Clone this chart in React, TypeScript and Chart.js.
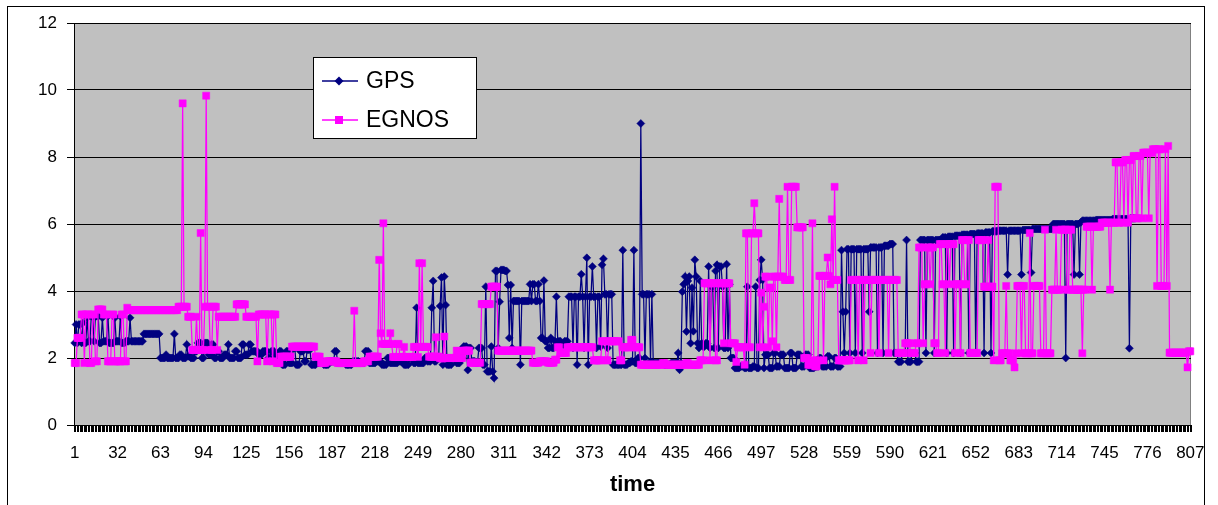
import React, { useEffect, useRef } from 'react';
import { Chart, registerables } from 'chart.js';

Chart.register(...registerables);

const FONT = 'Arial, "Liberation Sans", Helvetica, sans-serif';

// Category axis: observation number 1..807
const categories: string[] = Array.from({ length: 807 }, (_, k) => String(k + 1));
// Labelled categories on the x axis
const xTickLabels = ['1', '32', '63', '94', '125', '156', '187', '218', '249', '280', '311', '342', '373', '404', '435', '466', '497', '528', '559', '590', '621', '652', '683', '714', '745', '776', '807'];
const yMin = 0;
const yMax = 12;
const yStep = 2;

// Series values, stored as steps: [last category of the step, value]
const gpsStepsA: [number, number][] = [
  [1, 2.45], [2, 3.0], [3, 2.45], [5, 3.0], [6, 2.45], [7, 3.05], [9, 2.45], [10, 3.2],
  [12, 2.5], [14, 3.25], [15, 2.5], [18, 3.25], [20, 2.45], [21, 3.2], [24, 2.5], [25, 3.25], [29, 2.45], [30, 3.2], [33, 2.5], [34, 3.25], [37, 2.45], [40, 2.5],
  [41, 3.2], [50, 2.5], [62, 2.72],
  [66, 2.0], [67, 2.1], [72, 2.0], [73, 2.72],
  [76, 2.0], [78, 2.1], [81, 2.0], [82, 2.4], [84, 2.05],
  [87, 2.0], [89, 2.2], [92, 2.45], [94, 2.0], [97, 2.45], [99, 2.1], [101, 2.4], [103, 2.0], [105, 2.2],
  [108, 2.0], [111, 2.1], [112, 2.4], [116, 2.0], [118, 2.2], [121, 2.0], [123, 2.4], [126, 2.1], [128, 2.4], [130, 2.2],
  [133, 2.2], [136, 2.1], [140, 2.2], [142, 2.0], [145, 2.2], [148, 2.1], [150, 2.2],
];
const gpsStepsB: [number, number][] = [
  [153, 1.8], [155, 2.2], [158, 1.85], [160, 2.3], [163, 1.8], [166, 2.2], [168, 1.9], [171, 2.25], [175, 1.8],
  [180, 1.85], [184, 1.8], [188, 1.9], [190, 2.2], [196, 1.85], [201, 1.8], [206, 1.9], [210, 1.85],
  [213, 2.2], [218, 1.85], [222, 1.9], [226, 1.8], [228, 2.0], [234, 1.85], [238, 1.9], [242, 1.8], [245, 2.0],
  [247, 1.85], [248, 3.5], [249, 1.85],
  [253, 1.85], [255, 2.0], [258, 1.9], [259, 3.5], [260, 4.3], [262, 1.9],
  [264, 2.0], [265, 3.55], [266, 4.4], [267, 1.8], [268, 4.43], [269, 3.58], [270, 1.8],
  [273, 1.8], [276, 2.0], [279, 1.85], [281, 2.0], [284, 2.34], [285, 1.64], [287, 2.3], [290, 1.9],
  [292, 1.85], [295, 2.3], [297, 1.8], [298, 4.13],
  [301, 1.6], [302, 2.34], [303, 1.6], [304, 1.4],
  [306, 4.6], [307, 2.3], [308, 3.68], [311, 4.63], [313, 4.6], [314, 4.18], [315, 2.6],
  [316, 4.18], [317, 2.3], [318, 3.7],
  [322, 3.7], [323, 1.8], [329, 3.7], [330, 4.2], [331, 3.7], [333, 4.2], [335, 3.7], [336, 4.2], [337, 3.7],
];
const gpsStepsC: [number, number][] = [
  [339, 2.6], [340, 4.31], [342, 2.5], [344, 2.3], [345, 2.6], [347, 2.3], [348, 2.5], [349, 3.83],
  [352, 2.5], [354, 2.4], [357, 2.5],
  [360, 3.83], [361, 2.3], [363, 3.83], [364, 1.8], [366, 3.83], [367, 4.5], [368, 3.83], [369, 2.3], [370, 3.83], [371, 4.99], [372, 1.8], [374, 3.83], [375, 4.73], [377, 3.83], [378, 2.3], [380, 3.83],
  [381, 2.34], [382, 4.78], [383, 4.96], [385, 3.9], [386, 2.3], [389, 3.9], [390, 1.8],
  [396, 1.8], [397, 5.22], [400, 1.8], [402, 1.85], [404, 1.9], [405, 5.22], [407, 1.85], [409, 2.0], [410, 9.0],
  [412, 3.9], [413, 2.0], [416, 3.9], [417, 1.9], [418, 3.9],
  [426, 1.85], [431, 1.8], [436, 1.85], [437, 2.15], [438, 1.65], [439, 1.85],
  [440, 3.98], [441, 4.2], [442, 4.43], [443, 2.79], [444, 4.3], [445, 4.43], [446, 2.44], [447, 4.1], [448, 2.8], [449, 4.93], [450, 4.43], [451, 2.44], [452, 2.3], [453, 4.3], [454, 2.44],
  [456, 2.34], [458, 2.44],
  [459, 4.73], [460, 2.3], [462, 4.13], [463, 2.3], [464, 4.6], [465, 4.78], [466, 2.3], [468, 4.73], [469, 4.13], [471, 2.3], [472, 4.8], [473, 2.3], [474, 4.2], [475, 2.0],
  [477, 2.0], [481, 1.7], [484, 1.75], [486, 1.7], [487, 4.13], [490, 1.7], [492, 1.75], [493, 4.13], [495, 1.7],
  [496, 4.33], [497, 4.93], [498, 4.33], [499, 1.7],
  [502, 2.1], [505, 1.7], [507, 2.15], [510, 1.75], [513, 2.1], [517, 1.7], [519, 2.15], [522, 1.7], [525, 2.1], [528, 1.75], [531, 2.1], [535, 1.7],
  [538, 1.75], [540, 2.0], [544, 1.75], [546, 2.05], [549, 1.75], [551, 2.0], [554, 1.75],
];
const gpsStepsD: [number, number][] = [
  [555, 5.22], [556, 3.38], [557, 2.15], [558, 3.38],
  [560, 5.25], [561, 2.15], [564, 5.25], [565, 2.15], [569, 5.25], [570, 2.15], [574, 5.25], [575, 3.38], [580, 5.3], [581, 2.15], [584, 5.3], [585, 2.15], [589, 5.35], [592, 5.4],
  [595, 2.15], [598, 1.89], [601, 2.15], [602, 5.52], [605, 1.89], [608, 2.15], [611, 1.89],
  [615, 5.52], [616, 2.15], [621, 5.52], [622, 2.15], [627, 5.52],
  [630, 5.6], [631, 2.15], [635, 5.62], [636, 2.15], [640, 5.65], [641, 2.15], [646, 5.68], [647, 2.15], [651, 5.7], [652, 2.15], [657, 5.72], [658, 2.15], [662, 5.75], [663, 2.15], [667, 5.78],
  [674, 5.8], [675, 4.49], [684, 5.8], [685, 4.49], [691, 5.82], [692, 4.55], [707, 5.85],
  [716, 6.0], [717, 2.0], [722, 6.0], [723, 4.49], [726, 6.0], [727, 4.49], [728, 6.05],
  [738, 6.1], [750, 6.12], [762, 6.15], [763, 2.29], [767, 6.17],
];

const egnosStepsA: [number, number][] = [
  [2, 1.85], [5, 2.6], [7, 3.3], [8, 1.85], [11, 3.3], [13, 1.85], [15, 3.3], [17, 1.9], [21, 3.45], [24, 3.3], [27, 1.9], [29, 3.3], [34, 1.9], [36, 3.3], [38, 1.9], [39, 3.5],
  [75, 3.43], [78, 3.53], [79, 9.6], [82, 3.53], [85, 3.23], [88, 2.24], [89, 3.23], [91, 2.24], [92, 5.73], [94, 2.24], [95, 3.53], [96, 9.83], [98, 3.53], [100, 2.24], [103, 3.53], [104, 2.24],
  [117, 3.23], [124, 3.6], [132, 3.23],
  [133, 1.9], [139, 3.3], [140, 1.9], [143, 3.3], [144, 1.9], [146, 3.3],
  [149, 1.85], [157, 2.04], [174, 2.34], [178, 2.04], [182, 1.85], [190, 1.9], [202, 1.85],
  [203, 3.41], [209, 1.85], [213, 1.9], [220, 2.04], [221, 4.93], [222, 2.74], [223, 2.42], [224, 6.02], [228, 2.42], [229, 2.74], [230, 2.42], [233, 2.03], [235, 2.42], [238, 2.03], [239, 2.33], [245, 2.03], [248, 2.33], [249, 2.03], [250, 4.83], [251, 2.33], [252, 4.83], [256, 2.33], [261, 2.04], [262, 2.62], [264, 2.04], [267, 1.99], [268, 2.64], [270, 2.0],
];
const egnosStepsB: [number, number][] = [
  [276, 2.0], [277, 2.22], [281, 2.0], [286, 2.22], [294, 1.86], [301, 3.61], [306, 4.13], [331, 2.22],
  [336, 1.86], [342, 1.9], [347, 1.86], [349, 1.95],
  [351, 2.32], [356, 2.15], [375, 2.32],
  [381, 1.93], [384, 2.5], [386, 1.93], [394, 2.5], [396, 1.93], [402, 2.32],
  [404, 2.54], [409, 2.32], [410, 1.8],
  [425, 1.8], [427, 1.85], [442, 1.8], [444, 1.85], [452, 1.8], [455, 1.93],
  [459, 4.23], [460, 1.93], [463, 4.23], [465, 1.93], [469, 4.23], [470, 2.44], [474, 4.23], [478, 2.44], [479, 1.88],
  [484, 2.32], [485, 1.8], [487, 5.72], [489, 2.32], [491, 5.72], [492, 6.62], [495, 5.72], [496, 2.32],
  [497, 3.95], [498, 2.32], [499, 3.53], [501, 4.43], [502, 2.32], [504, 4.1], [505, 2.5], [507, 4.43], [508, 2.32], [509, 4.43], [510, 6.75],
  [513, 4.43], [515, 4.33], [516, 7.11], [518, 4.33], [522, 7.11], [527, 5.9], [530, 2.0], [533, 1.8], [534, 6.02], [535, 1.93],
];
const egnosStepsC: [number, number][] = [
  [537, 1.75], [538, 1.93], [541, 4.45], [542, 1.93], [544, 4.45], [545, 5.0], [546, 4.45], [547, 4.2], [548, 6.14], [549, 4.33], [550, 7.11], [552, 4.33], [556, 1.93],
  [561, 1.93], [566, 4.33], [567, 1.93], [570, 4.33], [571, 1.93], [575, 4.33], [576, 2.15], [581, 4.33], [582, 2.15], [588, 4.33], [589, 2.15], [595, 4.33], [600, 2.15],
  [604, 2.44], [608, 2.15], [610, 2.44], [613, 5.3], [614, 2.44], [616, 4.2], [618, 5.3], [619, 4.2], [621, 5.3],
  [623, 2.44], [625, 2.15], [627, 5.4], [629, 4.2], [630, 2.15], [632, 5.4], [633, 4.2], [636, 5.4], [637, 2.15], [640, 4.2], [641, 2.15], [643, 5.52], [645, 4.2], [647, 5.52], [653, 2.15], [657, 5.52], [660, 4.13], [661, 5.52], [664, 4.13], [665, 1.93], [668, 7.11],
];
const egnosStepsD: [number, number][] = [
  [670, 1.93], [673, 2.14], [674, 4.15], [676, 2.14], [679, 1.93], [680, 1.72], [681, 2.14], [684, 4.15], [685, 2.14], [687, 4.15], [690, 2.14], [691, 5.73], [693, 2.14], [698, 4.15], [701, 2.14], [702, 5.83], [706, 2.14],
  [709, 4.04], [710, 5.83], [713, 4.04], [717, 5.83], [719, 4.04], [721, 5.83], [728, 4.04], [729, 2.14], [731, 4.04], [735, 5.92], [736, 4.04], [742, 5.92],
  [748, 6.04], [749, 4.04], [752, 6.04], [754, 7.84], [756, 6.04], [758, 7.84], [759, 6.04], [761, 7.91], [762, 6.04], [764, 7.91], [765, 6.17], [767, 8.03],
  [769, 6.17], [771, 8.03], [772, 6.17], [776, 8.13], [777, 6.17], [779, 8.13], [782, 8.23], [783, 4.15], [785, 8.23], [788, 4.15], [789, 8.23], [790, 4.15], [791, 8.33], [804, 2.16], [805, 1.72], [807, 2.2],
];

function expandSteps(steps: [number, number][]): number[] {
  const out: number[] = [];
  for (const [end, v] of steps) {
    while (out.length < end) out.push(v);
  }
  return out;
}

const gpsValues = expandSteps([...gpsStepsA, ...gpsStepsB, ...gpsStepsC, ...gpsStepsD]);
const egnosValues = expandSteps([...egnosStepsA, ...egnosStepsB, ...egnosStepsC, ...egnosStepsD]);

const GPS_COLOR = '#000080';
const EGNOS_COLOR = '#FF00FF';

const framePlugin = {
  id: 'frame',
  beforeDraw(chart: any) {
    const { ctx, chartArea, width, height } = chart;
    ctx.save();
    ctx.fillStyle = '#ffffff';
    ctx.fillRect(0, 0, width, height);
    ctx.strokeStyle = '#000000';
    ctx.lineWidth = 1;
    ctx.strokeRect(7.5, 6.5, 1197, height + 20);
    ctx.fillStyle = '#C0C0C0';
    ctx.fillRect(chartArea.left, chartArea.top, chartArea.right - chartArea.left, chartArea.bottom - chartArea.top);
    ctx.strokeStyle = '#808080';
    ctx.strokeRect(chartArea.left + 0.5, chartArea.top + 0.5, chartArea.right - chartArea.left - 1, chartArea.bottom - chartArea.top);
    ctx.restore();
  },
};

// Tick marks between every pair of categories (as the spreadsheet draws them)
const categoryTicksPlugin = {
  id: 'categoryTicks',
  afterDraw(chart: any) {
    const { ctx } = chart;
    const xs = chart.scales.x;
    const n = chart.data.labels.length;
    const half = (xs.getPixelForValue(1) - xs.getPixelForValue(0)) / 2;
    const y0 = Math.round(xs.top);
    ctx.save();
    ctx.fillStyle = '#000000';
    for (let k = 0; k <= n; k++) {
      const px = k < n ? xs.getPixelForValue(k) - half : xs.getPixelForValue(n - 1) + half;
      ctx.fillRect(Math.round(px), y0, 1, 7);
    }
    ctx.restore();
  },
};

const legendPlugin = {
  id: 'boxLegend',
  afterDraw(chart: any) {
    const { ctx } = chart;
    const box = { x: 313.5, y: 57.5, w: 163, h: 81 };
    ctx.save();
    ctx.fillStyle = '#ffffff';
    ctx.fillRect(box.x, box.y, box.w, box.h);
    ctx.strokeStyle = '#000000';
    ctx.lineWidth = 1;
    ctx.strokeRect(box.x, box.y, box.w, box.h);
    const rows = [81, 120];
    chart.data.datasets.forEach((ds: any, k: number) => {
      const y = rows[k];
      ctx.strokeStyle = ds.borderColor;
      ctx.lineWidth = 1.5;
      ctx.beginPath();
      ctx.moveTo(322, y);
      ctx.lineTo(358, y);
      ctx.stroke();
      ctx.fillStyle = ds.borderColor;
      ctx.beginPath();
      if (ds.pointStyle === 'rectRot') {
        ctx.moveTo(339 - 4.5, y);
        ctx.lineTo(339, y - 4.5);
        ctx.lineTo(339 + 4.5, y);
        ctx.lineTo(339, y + 4.5);
        ctx.closePath();
      } else {
        ctx.rect(335, y - 4, 8, 8);
      }
      ctx.fill();
      ctx.fillStyle = '#000000';
      ctx.font = `23px ${FONT}`;
      ctx.textBaseline = 'middle';
      ctx.textAlign = 'left';
      ctx.fillText(ds.label, 366, y + 1);
    });
    ctx.restore();
  },
};

export default function App() {
  const canvasRef = useRef<HTMLCanvasElement | null>(null);

  useEffect(() => {
    document.body.style.margin = '0';
    const canvas = canvasRef.current;
    if (!canvas) return;
    const chart = new Chart(canvas, {
      type: 'line',
      data: {
        labels: categories,
        datasets: [
          {
            label: 'GPS',
            data: gpsValues,
            borderColor: GPS_COLOR,
            backgroundColor: GPS_COLOR,
            borderWidth: 1.25,
            pointStyle: 'rectRot',
            pointRadius: 4,
            pointBorderWidth: 0.5,
            pointBackgroundColor: GPS_COLOR,
            pointBorderColor: GPS_COLOR,
            tension: 0,
            fill: false,
            order: 1,
          },
          {
            label: 'EGNOS',
            data: egnosValues,
            borderColor: EGNOS_COLOR,
            backgroundColor: EGNOS_COLOR,
            borderWidth: 1.25,
            pointStyle: 'rect',
            pointRadius: 5,
            pointBorderWidth: 0.5,
            pointBackgroundColor: EGNOS_COLOR,
            pointBorderColor: EGNOS_COLOR,
            tension: 0,
            fill: false,
            order: 0,
          },
        ],
      },
      options: {
        responsive: false,
        animation: false,
        events: [],
        layout: { padding: { top: 23, right: 27, left: 0, bottom: 0 } },
        plugins: {
          legend: { display: false },
          tooltip: { enabled: false },
        },
        scales: {
          x: {
            type: 'category',
            offset: true,
            grid: {
              display: true,
              drawOnChartArea: false,
              drawTicks: true,
              tickLength: 6,
              tickColor: 'rgba(0,0,0,0)',
              color: '#000000',
              lineWidth: 1,
              offset: false,
            },
            border: { display: true, color: '#000000', width: 1 },
            ticks: {
              autoSkip: false,
              maxRotation: 0,
              minRotation: 0,
              padding: 12,
              color: '#000000',
              font: { family: FONT, size: 17 },
              callback: function (this: any, value: any) {
                const lab = this.getLabelForValue(value);
                return xTickLabels.includes(lab) ? lab : '';
              },
            },
            title: {
              display: true,
              text: 'time',
              color: '#000000',
              font: { family: FONT, size: 22, weight: 'bold' },
              padding: { top: 0, bottom: 7 },
            },
            afterFit: (scale: any) => {
              scale.height = 80;
            },
          },
          y: {
            min: yMin,
            max: yMax,
            grid: {
              color: '#000000',
              lineWidth: 1,
              drawTicks: true,
              tickLength: 7,
            },
            border: { display: true, color: '#000000', width: 1 },
            ticks: {
              stepSize: yStep,
              padding: 10,
              color: '#000000',
              font: { family: FONT, size: 17 },
            },
            afterFit: (scale: any) => {
              scale.width = 74;
            },
          },
        },
      } as any,
      plugins: [framePlugin, categoryTicksPlugin, legendPlugin],
    });
    return () => {
      chart.destroy();
    };
  }, []);

  return (
    <div style={{ width: 1218, height: 505, position: 'relative' }}>
      <canvas ref={canvasRef} width={1218} height={505} />
    </div>
  );
}
